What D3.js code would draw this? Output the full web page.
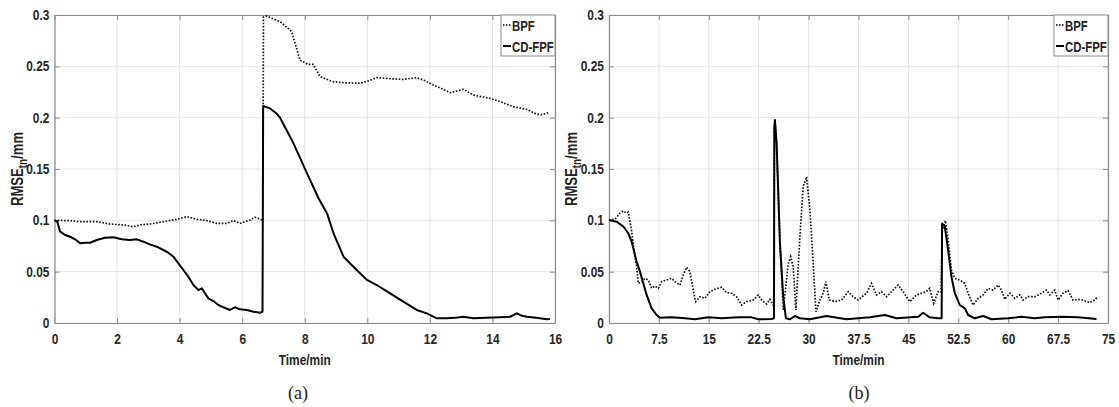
<!DOCTYPE html>
<html>
<head>
<meta charset="utf-8">
<script src="https://cdn.jsdelivr.net/npm/d3@7"></script>
<style>
  body { margin: 0; background: #fff; }
  svg text { font-family: "Liberation Sans", Arial, sans-serif; font-weight: bold; }
</style>
</head>
<body>
<svg id="chart" width="1119" height="407"></svg>
<script>
// Panel (a): time in minutes, RMSE in mm
const timeCdA = [0, 0.09, 0.18, 0.34, 0.5, 0.66, 0.82, 0.98, 1.14, 1.35, 1.61, 1.88, 2.15, 2.41, 2.63, 2.84, 3.05, 3.27, 3.48, 3.64, 3.8, 3.96, 4.12, 4.28, 4.44, 4.6, 4.71, 4.81, 4.92, 5.08, 5.24, 5.4, 5.61, 5.77, 5.93, 6.15, 6.36, 6.57, 6.65, 6.67, 6.89, 7.1, 7.21, 7.64, 8.07, 8.44, 8.71, 8.92, 9.24, 9.66, 9.99, 10.3, 10.73, 11.15, 11.58, 11.9, 12.22, 12.54, 12.8, 13.07, 13.39, 13.8, 14.25, 14.57, 14.78, 14.95, 15.1, 15.4, 15.74, 15.84];
const cdfpfA = [0.1, 0.0987, 0.089, 0.0857, 0.084, 0.0815, 0.0776, 0.0782, 0.0782, 0.0808, 0.083, 0.0835, 0.0815, 0.0808, 0.0815, 0.0792, 0.0766, 0.0743, 0.0711, 0.0685, 0.0646, 0.0581, 0.0516, 0.0451, 0.037, 0.0321, 0.0338, 0.029, 0.024, 0.0214, 0.0175, 0.0153, 0.0127, 0.0153, 0.0133, 0.0127, 0.011, 0.01, 0.011, 0.2114, 0.209, 0.204, 0.2, 0.175, 0.146, 0.1215, 0.107, 0.0874, 0.0646, 0.0516, 0.0419, 0.037, 0.0289, 0.0208, 0.0127, 0.0094, 0.0046, 0.0046, 0.005, 0.0061, 0.0046, 0.005, 0.0056, 0.0061, 0.0094, 0.007, 0.0061, 0.005, 0.0036, 0.004];

const timeBpfA = [0, 0.5, 0.82, 1.35, 1.77, 2.2, 2.52, 2.73, 3.05, 3.48, 3.91, 4.23, 4.55, 4.87, 5.19, 5.51, 5.72, 5.93, 6.25, 6.41, 6.63, 6.66, 6.68, 6.78, 7.21, 7.58, 7.85, 8.1, 8.27, 8.49, 8.9, 9.3, 9.77, 10.05, 10.3, 10.7, 11.15, 11.58, 11.85, 12.11, 12.4, 12.65, 13.07, 13.39, 13.93, 14.3, 14.67, 15.1, 15.42, 15.6, 15.79];
const bpfA = [0.1, 0.0997, 0.0987, 0.0987, 0.0964, 0.0955, 0.0938, 0.0955, 0.0964, 0.0987, 0.101, 0.1036, 0.101, 0.0997, 0.097, 0.097, 0.0997, 0.097, 0.1003, 0.103, 0.1003, 0.1, 0.298, 0.299, 0.2935, 0.284, 0.256, 0.252, 0.252, 0.24, 0.235, 0.234, 0.2335, 0.236, 0.239, 0.238, 0.2373, 0.239, 0.236, 0.2318, 0.228, 0.2243, 0.2276, 0.222, 0.2188, 0.215, 0.2107, 0.208, 0.2033, 0.203, 0.2049];

// Panel (b)
const timeCdB = [0, 1.15, 2.15, 2.9, 3.41, 3.9, 4.16, 4.66, 5.16, 5.66, 6.41, 7.16, 7.66, 9.41, 11.42, 12.92, 14.92, 16.93, 19.43, 21.43, 22.43, 24.44, 24.8, 24.85, 24.94, 25.19, 25.69, 26.19, 26.59, 27.19, 27.94, 28.69, 30.2, 32.7, 35.7, 39.2, 41.46, 43.2, 46.5, 47.2, 48.2, 49.46, 50.0, 50.06, 50.47, 50.97, 51.47, 51.98, 52.73, 53.48, 53.98, 54.98, 56.23, 57.49, 59.98, 61.99, 63.99, 65.5, 68, 70.5, 73.26];
const cdfpfB = [0.1003, 0.0987, 0.094, 0.0874, 0.0792, 0.0662, 0.0597, 0.05, 0.0386, 0.0273, 0.0143, 0.0078, 0.0052, 0.0055, 0.0046, 0.0036, 0.0055, 0.0046, 0.0055, 0.0055, 0.0036, 0.0039, 0.0046, 0.19, 0.1977, 0.175, 0.0776, 0.0256, 0.0046, 0.0036, 0.0068, 0.0046, 0.0036, 0.0068, 0.0036, 0.0055, 0.0078, 0.0046, 0.006, 0.01, 0.0055, 0.0046, 0.0046, 0.097, 0.094, 0.071, 0.045, 0.029, 0.0175, 0.0143, 0.0078, 0.0046, 0.0068, 0.0036, 0.0046, 0.0061, 0.0046, 0.0055, 0.0061, 0.0055, 0.0039];

const timeBpfB = [0, 0.9, 1.65, 2.15, 2.66, 2.9, 3.41, 3.9, 4.16, 4.4, 4.91, 5.41, 5.9, 6.41, 6.9, 7.41, 7.91, 8.66, 9.41, 9.91, 10.67, 11.16, 11.67, 12.17, 12.66, 13.02, 13.67, 14.42, 15.17, 15.92, 16.93, 17.68, 18.43, 19.18, 19.93, 20.68, 21.68, 22.43, 22.94, 23.69, 24.19, 24.68, 24.8, 24.85, 24.94, 25.19, 25.69, 26.19, 26.94, 27.3, 27.69, 28.09, 28.69, 29.19, 29.7, 30.2, 30.69, 31.1, 31.7, 32.19, 32.6, 33.1, 33.95, 34.95, 35.95, 36.7, 37.45, 38.7, 39.46, 40.21, 40.96, 41.71, 42.46, 43.46, 44.21, 45.2, 46.2, 47.7, 48.2, 48.8, 49.46, 49.9, 50.1, 50.57, 50.97, 51.47, 51.98, 52.73, 53.48, 53.98, 54.73, 55.48, 56.23, 56.98, 57.73, 58.48, 58.99, 59.49, 60.24, 60.99, 61.74, 62.24, 62.99, 63.99, 64.99, 65.74, 66.24, 66.99, 67.49, 68.24, 68.99, 69.74, 70.5, 71.25, 72.25, 73, 73.36];
const bpfB = [0.1003, 0.101, 0.107, 0.109, 0.107, 0.108, 0.089, 0.0646, 0.0548, 0.0386, 0.0402, 0.0435, 0.0419, 0.0338, 0.036, 0.0338, 0.0402, 0.0419, 0.0435, 0.0402, 0.037, 0.0468, 0.0543, 0.05, 0.0321, 0.0208, 0.0256, 0.024, 0.0305, 0.0328, 0.0348, 0.0295, 0.029, 0.0256, 0.0175, 0.0208, 0.0224, 0.0273, 0.0224, 0.0185, 0.023, 0.0175, 0.0192, 0.19, 0.1977, 0.175, 0.08, 0.0127, 0.058, 0.0646, 0.0548, 0.0127, 0.084, 0.133, 0.1425, 0.11, 0.058, 0.011, 0.0224, 0.029, 0.0402, 0.0224, 0.0208, 0.0224, 0.0305, 0.0256, 0.0224, 0.029, 0.0386, 0.0273, 0.0305, 0.0256, 0.0305, 0.037, 0.0305, 0.0208, 0.0273, 0.0305, 0.0338, 0.0192, 0.0305, 0.03, 0.09, 0.0997, 0.081, 0.0516, 0.0435, 0.0419, 0.0386, 0.029, 0.0175, 0.024, 0.0273, 0.0338, 0.0321, 0.037, 0.0321, 0.023, 0.029, 0.024, 0.0273, 0.0224, 0.0256, 0.0256, 0.029, 0.0321, 0.0273, 0.0321, 0.0224, 0.029, 0.0315, 0.0224, 0.023, 0.0224, 0.0198, 0.0224, 0.025];

const yTicks = [0, 0.05, 0.1, 0.15, 0.2, 0.25, 0.3];
const xTicksA = [0, 2, 4, 6, 8, 10, 12, 14, 16];
const xTicksB = [0, 7.5, 15, 22.5, 30, 37.5, 45, 52.5, 60, 67.5, 75];
const seriesNames = ["BPF", "CD-FPF"];

const svg = d3.select("svg#chart");

const plotTop = 15, plotBottom = 323;
// horizontal squeeze to mimic the narrow bold face of the original
const narrow = 0.85;

function drawPanel(opts) {
  const g = svg.append("g");
  const x = d3.scaleLinear().domain(opts.xDomain).range([opts.left, opts.right]);
  const y = d3.scaleLinear().domain([0, 0.3]).range([plotBottom, plotTop]);

  // grid
  g.append("g").selectAll("line").data(opts.xTicks).enter().append("line")
    .attr("x1", d => x(d)).attr("x2", d => x(d))
    .attr("y1", plotTop).attr("y2", plotBottom)
    .attr("stroke", "#e4e4e4").attr("stroke-width", 1);
  g.append("g").selectAll("line").data(yTicks).enter().append("line")
    .attr("x1", opts.left).attr("x2", opts.right)
    .attr("y1", d => y(d)).attr("y2", d => y(d))
    .attr("stroke", "#e4e4e4").attr("stroke-width", 1);

  // axes, MATLAB style: ticks inward, box on all four sides
  const fmt = d => String(d);
  const xb = g.append("g").attr("transform", "translate(0," + plotBottom + ")")
    .call(d3.axisBottom(x).tickValues(opts.xTicks).tickFormat(fmt).tickSizeInner(-5).tickSizeOuter(0).tickPadding(11));
  const xt = g.append("g").attr("transform", "translate(0," + plotTop + ")")
    .call(d3.axisTop(x).tickValues(opts.xTicks).tickFormat("").tickSizeInner(-5).tickSizeOuter(0));
  const yl = g.append("g").attr("transform", "translate(" + opts.left + ",0)")
    .call(d3.axisLeft(y).tickValues(yTicks).tickFormat(fmt).tickSizeInner(-5).tickSizeOuter(0).tickPadding(6));
  const yr = g.append("g").attr("transform", "translate(" + opts.right + ",0)")
    .call(d3.axisRight(y).tickValues(yTicks).tickFormat("").tickSizeInner(-5).tickSizeOuter(0));
  [xb, xt, yl, yr].forEach(a => {
    a.select(".domain").attr("stroke", "#8c8c8c").attr("stroke-width", 1.2);
    a.selectAll(".tick line").attr("stroke", "#8c8c8c");
    a.selectAll("text").attr("fill", "#262626").style("font-size", "14px")
      .attr("transform", "scale(" + narrow + ",1)");
  });

  // lines
  const line = d3.line().x(d => x(d[0])).y(d => y(d[1]));
  g.append("path").datum(d3.zip(opts.tBpf, opts.bpf))
    .attr("d", line).attr("fill", "none").attr("stroke", "#111")
    .attr("stroke-width", 1.7).attr("stroke-dasharray", "1.6,1.6");
  g.append("path").datum(d3.zip(opts.tCd, opts.cd))
    .attr("d", line).attr("fill", "none").attr("stroke", "#000")
    .attr("stroke-width", 2).attr("stroke-linejoin", "round");

  // legend
  const lg = g.append("g");
  const lw = 54, lh = 41, lx = opts.right - lw;
  lg.append("rect").attr("x", lx).attr("y", plotTop).attr("width", lw).attr("height", lh)
    .attr("fill", "#fff").attr("stroke", "#8c8c8c").attr("stroke-width", 1);
  seriesNames.forEach((name, i) => {
    const ly = plotTop + 10 + i * 21;
    lg.append("line").attr("x1", lx + 2).attr("x2", lx + 10)
      .attr("y1", ly).attr("y2", ly).attr("stroke", "#000")
      .attr("stroke-width", i === 0 ? 1.5 : 2)
      .attr("stroke-dasharray", i === 0 ? "1.5,1.5" : null);
    lg.append("text").attr("transform", "translate(" + (lx + 11) + "," + (ly + 6) + ") scale(0.76,1)")
      .style("font-size", "15px").attr("fill", "#222").text(name);
  });

  // axis labels
  const cx = (opts.left + opts.right) / 2;
  g.append("text").attr("transform", "translate(" + cx + ",365) scale(" + narrow + ",1)")
    .attr("text-anchor", "middle").style("font-size", "14px").attr("fill", "#222").text("Time/min");
  const yt = g.append("text")
    .attr("transform", "translate(" + (opts.left - 32) + "," + ((plotTop + plotBottom) / 2) + ") rotate(-90) scale(0.82,1)")
    .attr("text-anchor", "middle").style("font-size", "16px").attr("fill", "#222");
  yt.append("tspan").text("RMSE");
  yt.append("tspan").attr("dy", 4).style("font-size", "12px").text("tn");
  yt.append("tspan").attr("dy", -4).text("/mm");

  svg.append("text").attr("x", opts.tagX).attr("y", 399).attr("text-anchor", "middle")
    .style("font-family", "'Liberation Serif', 'Times New Roman', serif").style("font-weight", "normal")
    .style("font-size", "18px").attr("fill", "#222").text(opts.tag);
}

drawPanel({ left: 54.5, right: 555, xDomain: [0, 16], xTicks: xTicksA,
  tCd: timeCdA, cd: cdfpfA, tBpf: timeBpfA, bpf: bpfA, tag: "(a)", tagX: 298 });
drawPanel({ left: 609, right: 1108, xDomain: [0, 75], xTicks: xTicksB,
  tCd: timeCdB, cd: cdfpfB, tBpf: timeBpfB, bpf: bpfB, tag: "(b)", tagX: 859 });
</script>
</body>
</html>
